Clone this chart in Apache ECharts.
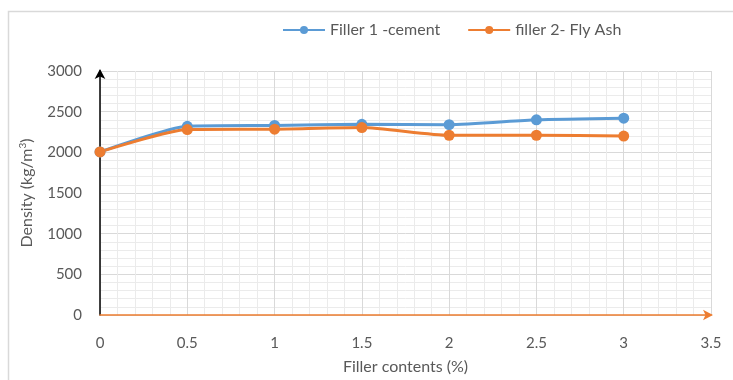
<!DOCTYPE html>
<html>
<head>
<meta charset="utf-8">
<script src="https://cdn.jsdelivr.net/npm/echarts@6/dist/echarts.min.js"></script>
<style>html,body{margin:0;padding:0;background:#fff}#c{width:733px;height:380px}</style>
</head>
<body>
<div id="c"></div>
<script>
const fillerContents = [0, 0.5, 1, 1.5, 2, 2.5, 3];
const cementDensity = [2005, 2320, 2330, 2345, 2340, 2400, 2420];
const flyAshDensity = [2005, 2280, 2285, 2305, 2210, 2210, 2200];
const seriesNames = ['Filler 1 -cement', 'filler 2- Fly Ash'];
const xAxisTitle = 'Filler contents (%)';

const chart = echarts.init(document.getElementById('c'));
const font = 'Lato, "Open Sans", sans-serif';
const mk = (vals) => fillerContents.map((x, i) => [x, vals[i]]);
chart.setOption({
  animation: false,
  textStyle: { fontFamily: font },
  graphic: [{
    type: 'rect', silent: true,
    shape: { x: 8.5, y: 11.5, width: 800, height: 400 },
    style: { fill: 'none', stroke: '#d9d9d9', lineWidth: 1.5 }
  }],
  legend: {
    top: 17, left: 277,
    itemWidth: 42, itemHeight: 10, itemGap: 27,
    textStyle: { color: '#595959', fontSize: 16, fontFamily: font },
    data: seriesNames
  },
  grid: { left: 100, right: 22, top: 71, bottom: 64 },
  xAxis: {
    type: 'value', min: 0, max: 3.5, interval: 0.5,
    name: xAxisTitle, nameLocation: 'middle', nameGap: 44,
    nameTextStyle: { color: '#595959', fontSize: 16 },
    axisLine: { show: true, symbol: ['none', 'arrow'], symbolSize: [8, 10], symbolOffset: [0, 2],
      lineStyle: { color: '#ED7D31', width: 1.5 } },
    axisTick: { show: false },
    axisLabel: { color: '#595959', fontSize: 15, margin: 21 },
    splitLine: { show: true, lineStyle: { color: '#d9d9d9', width: 1 } },
    minorTick: { show: false, splitNumber: 5 },
    minorSplitLine: { show: true, lineStyle: { color: '#ebebeb', width: 1 } }
  },
  yAxis: {
    type: 'value', min: 0, max: 3000, interval: 500,
    name: 'Density (kg/m{sup|3})', nameLocation: 'middle', nameGap: 65,
    nameTextStyle: { color: '#595959', fontSize: 16,
      rich: { sup: { fontSize: 10, verticalAlign: 'top', color: '#595959', padding: [0, 0, 7, 0] } } },
    axisLine: { show: true, symbol: ['none', 'arrow'], symbolSize: [8, 10], symbolOffset: [0, 2],
      lineStyle: { color: '#000', width: 1.5 } },
    axisTick: { show: false },
    axisLabel: { color: '#595959', fontSize: 15, margin: 18, formatter: (v) => String(v) },
    splitLine: { show: true, lineStyle: { color: '#d9d9d9', width: 1 } },
    minorTick: { show: false, splitNumber: 5 },
    minorSplitLine: { show: true, lineStyle: { color: '#ebebeb', width: 1 } }
  },
  series: [
    { name: seriesNames[0], type: 'line', data: mk(cementDensity), smooth: 0.2,
      symbol: 'circle', symbolSize: 11, color: '#5B9BD5',
      lineStyle: { width: 3, color: '#5B9BD5' }, itemStyle: { color: '#5B9BD5' } },
    { name: seriesNames[1], type: 'line', data: mk(flyAshDensity), smooth: 0.2,
      symbol: 'circle', symbolSize: 11, color: '#ED7D31',
      lineStyle: { width: 3, color: '#ED7D31' }, itemStyle: { color: '#ED7D31' } }
  ]
});
</script>
</body>
</html>
